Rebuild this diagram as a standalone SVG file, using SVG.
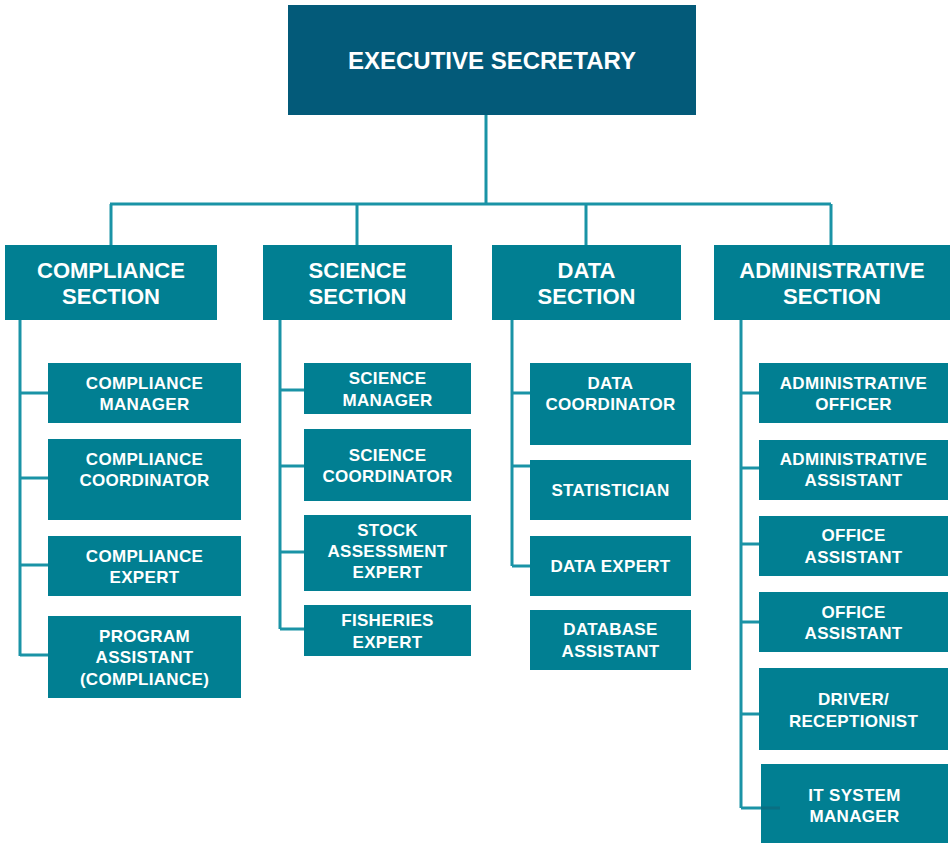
<svg xmlns="http://www.w3.org/2000/svg" width="951" height="843" viewBox="0 0 951 843">
<style>
.exec{fill:#035a79}
.box{fill:#017f92}
.t{font-family:"Liberation Sans",Arial,sans-serif;font-weight:bold;fill:#ffffff;text-anchor:middle}
.te{font-size:24px}
.ts{font-size:22px}
.tc{font-size:17px;letter-spacing:0.3px}
.ln{stroke:#1a93a6;stroke-width:3;fill:none}
</style>
<rect width="951" height="843" fill="#ffffff"/>
<g id="connectors">
<path class="ln" d="M486 115V204M110 204H831M111 204V245M357 204V245M586 204V245M831 204V245"/>
<path class="ln" d="M20 320V656M20 393H48M20 478H48M20 565H48M20 655H48"/>
<path class="ln" d="M280 320V629M280 390H304M280 466H304M280 552H304M280 629H304"/>
<path class="ln" d="M512 320V566M512 393H530M512 466H530M512 566H530"/>
<path class="ln" d="M741 320V808M741 393H759M741 468H759M741 544H759M741 622H759M741 714H759M741 808H780"/>
</g>
<g id="exec"><rect class="exec" x="288" y="5" width="408" height="110"/><text class="t te" x="492" y="69">EXECUTIVE SECRETARY</text></g>
<g id="compliance-section"><rect class="box" x="5" y="245" width="212" height="75"/><text class="t ts" x="111" y="278">COMPLIANCE</text><text class="t ts" x="111" y="304">SECTION</text></g>
<g id="science-section"><rect class="box" x="263" y="245" width="189" height="75"/><text class="t ts" x="357.5" y="278">SCIENCE</text><text class="t ts" x="357.5" y="304">SECTION</text></g>
<g id="data-section"><rect class="box" x="492" y="245" width="189" height="75"/><text class="t ts" x="586.5" y="278">DATA</text><text class="t ts" x="586.5" y="304">SECTION</text></g>
<g id="admin-section"><rect class="box" x="714" y="245" width="236" height="75"/><text class="t ts" x="832" y="278">ADMINISTRATIVE</text><text class="t ts" x="832" y="304">SECTION</text></g>

<g id="compliance-manager"><rect class="box" x="48" y="363" width="193" height="60"/><text class="t tc" x="144.5" y="389">COMPLIANCE</text><text class="t tc" x="144.5" y="410">MANAGER</text></g>
<g id="compliance-coordinator"><rect class="box" x="48" y="439" width="193" height="81"/><text class="t tc" x="144.5" y="465">COMPLIANCE</text><text class="t tc" x="144.5" y="486">COORDINATOR</text></g>
<g id="compliance-expert"><rect class="box" x="48" y="536" width="193" height="60"/><text class="t tc" x="144.5" y="562">COMPLIANCE</text><text class="t tc" x="144.5" y="583">EXPERT</text></g>
<g id="program-assistant"><rect class="box" x="48" y="616" width="193" height="82"/><text class="t tc" x="144.5" y="642">PROGRAM</text><text class="t tc" x="144.5" y="663">ASSISTANT</text><text class="t tc" x="144.5" y="685">(COMPLIANCE)</text></g>

<g id="science-manager"><rect class="box" x="304" y="363" width="167" height="51"/><text class="t tc" x="387.5" y="384">SCIENCE</text><text class="t tc" x="387.5" y="406">MANAGER</text></g>
<g id="science-coordinator"><rect class="box" x="304" y="429" width="167" height="72"/><text class="t tc" x="387.5" y="461">SCIENCE</text><text class="t tc" x="387.5" y="482">COORDINATOR</text></g>
<g id="stock-assessment-expert"><rect class="box" x="304" y="515" width="167" height="76"/><text class="t tc" x="387.5" y="536">STOCK</text><text class="t tc" x="387.5" y="557">ASSESSMENT</text><text class="t tc" x="387.5" y="578">EXPERT</text></g>
<g id="fisheries-expert"><rect class="box" x="304" y="605" width="167" height="51"/><text class="t tc" x="387.5" y="626">FISHERIES</text><text class="t tc" x="387.5" y="648">EXPERT</text></g>

<g id="data-coordinator"><rect class="box" x="530" y="363" width="161" height="82"/><text class="t tc" x="610.5" y="389">DATA</text><text class="t tc" x="610.5" y="410">COORDINATOR</text></g>
<g id="statistician"><rect class="box" x="530" y="460" width="161" height="60"/><text class="t tc" x="610.5" y="496">STATISTICIAN</text></g>
<g id="data-expert"><rect class="box" x="530" y="536" width="161" height="60"/><text class="t tc" x="610.5" y="572">DATA EXPERT</text></g>
<g id="database-assistant"><rect class="box" x="530" y="610" width="161" height="60"/><text class="t tc" x="610.5" y="635">DATABASE</text><text class="t tc" x="610.5" y="657">ASSISTANT</text></g>

<g id="administrative-officer"><rect class="box" x="759" y="363" width="189" height="60"/><text class="t tc" x="853.5" y="389">ADMINISTRATIVE</text><text class="t tc" x="853.5" y="410">OFFICER</text></g>
<g id="administrative-assistant"><rect class="box" x="759" y="440" width="189" height="60"/><text class="t tc" x="853.5" y="465">ADMINISTRATIVE</text><text class="t tc" x="853.5" y="486">ASSISTANT</text></g>
<g id="office-assistant-1"><rect class="box" x="759" y="516" width="189" height="60"/><text class="t tc" x="853.5" y="541">OFFICE</text><text class="t tc" x="853.5" y="563">ASSISTANT</text></g>
<g id="office-assistant-2"><rect class="box" x="759" y="592" width="189" height="60"/><text class="t tc" x="853.5" y="618">OFFICE</text><text class="t tc" x="853.5" y="639">ASSISTANT</text></g>
<g id="driver-receptionist"><rect class="box" x="759" y="668" width="189" height="82"/><text class="t tc" x="853.5" y="705">DRIVER/</text><text class="t tc" x="853.5" y="727">RECEPTIONIST</text></g>
<g id="it-system-manager"><rect class="box" x="761" y="764" width="187" height="79"/><path d="M761 808H780" stroke="#0a6f82" stroke-width="3"/><text class="t tc" x="854.5" y="801">IT SYSTEM</text><text class="t tc" x="854.5" y="822">MANAGER</text></g>
</svg>
